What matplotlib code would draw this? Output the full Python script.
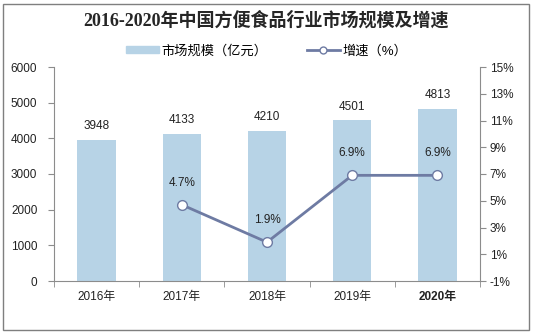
import matplotlib.pyplot as plt
import matplotlib.patches as mpatches
import numpy as np

plt.rcParams['font.family'] = ['Liberation Sans', 'Noto Sans CJK SC', 'DejaVu Sans']

years = ['2016年', '2017年', '2018年', '2019年', '2020年']
scale = [3948, 4133, 4210, 4501, 4813]
growth_years = [1, 2, 3, 4]
growth = [4.7, 1.9, 6.9, 6.9]

bar_color = '#b7d3e6'
line_color = '#6e7ba3'
axis_color = '#8c8c8c'
fs = 8.5

fig = plt.figure(figsize=(5.33, 3.33), dpi=100)
ax = fig.add_axes([54 / 533, 1 - 281 / 333, 426 / 533, 214 / 333])
x = np.arange(len(years))

ax.bar(x, scale, width=0.45, color=bar_color, zorder=2)
for xi, v in zip(x, scale):
    ax.text(xi, v + 220, str(v), ha='center', va='bottom', fontsize=fs, color='#222222')

ax.set_xlim(-0.5, 4.5)
ax.set_ylim(0, 6000)
ax.set_yticks(range(0, 6001, 1000))
ax.set_xticks(x)
ax.set_xticklabels(years)
ax.set_xticks(np.arange(-0.5, 5, 1), minor=True)
ax.tick_params(axis='x', which='major', length=0, labelsize=fs, pad=7, labelcolor='#222222')
ax.tick_params(axis='x', which='minor', length=4, color=axis_color, direction='out')
ax.get_xticklabels()[-1].set_fontweight('bold')
ax.tick_params(axis='y', length=4, color=axis_color, labelsize=fs, pad=8, labelcolor='#222222')
for s in ['top', 'right']:
    ax.spines[s].set_visible(False)
for s in ['left', 'bottom']:
    ax.spines[s].set_color(axis_color)

ax2 = ax.twinx()
ax2.plot(growth_years, growth, color=line_color, lw=2, marker='o', ms=7,
         mfc='white', mec=line_color, mew=1, zorder=3)
for xi, v in zip(growth_years, growth):
    ax2.text(xi, v + 1.2, f'{v}%', ha='center', va='bottom', fontsize=fs, color='#222222')
ax2.set_ylim(-1, 15)
ax2.set_yticks(range(-1, 16, 2))
ax2.set_yticklabels([f'{t}%' for t in range(-1, 16, 2)])
ax2.tick_params(axis='y', length=4, color=axis_color, labelsize=fs, pad=3, labelcolor='#222222')
for s in ['top', 'left', 'bottom']:
    ax2.spines[s].set_visible(False)
ax2.spines['right'].set_color(axis_color)

fig.text(0.5, 1 - 20 / 333, '2016-2020年中国方便食品行业市场规模及增速', ha='center', va='center',
         fontsize=13, fontweight='bold', color='#262626',
         family=['Liberation Serif', 'Noto Sans CJK SC'])

handles = [mpatches.Patch(color=bar_color),
           plt.Line2D([], [], color=line_color, lw=2, marker='o', ms=5,
                      mfc='white', mec=line_color)]
fig.legend(handles, ['市场规模（亿元）', '增速（%）'], loc='center', ncol=2,
           bbox_to_anchor=(0.5, 1 - 51 / 333), frameon=False, fontsize=9.5,
           handlelength=2.5, handleheight=0.4, columnspacing=3, handletextpad=0.2)

fig.patches.append(mpatches.Rectangle((3 / 533, 3 / 333), 526 / 533, 326 / 333,
                                      transform=fig.transFigure, fill=False,
                                      edgecolor='#7f7f7f', lw=1))

fig.savefig('out.png', dpi=100)
